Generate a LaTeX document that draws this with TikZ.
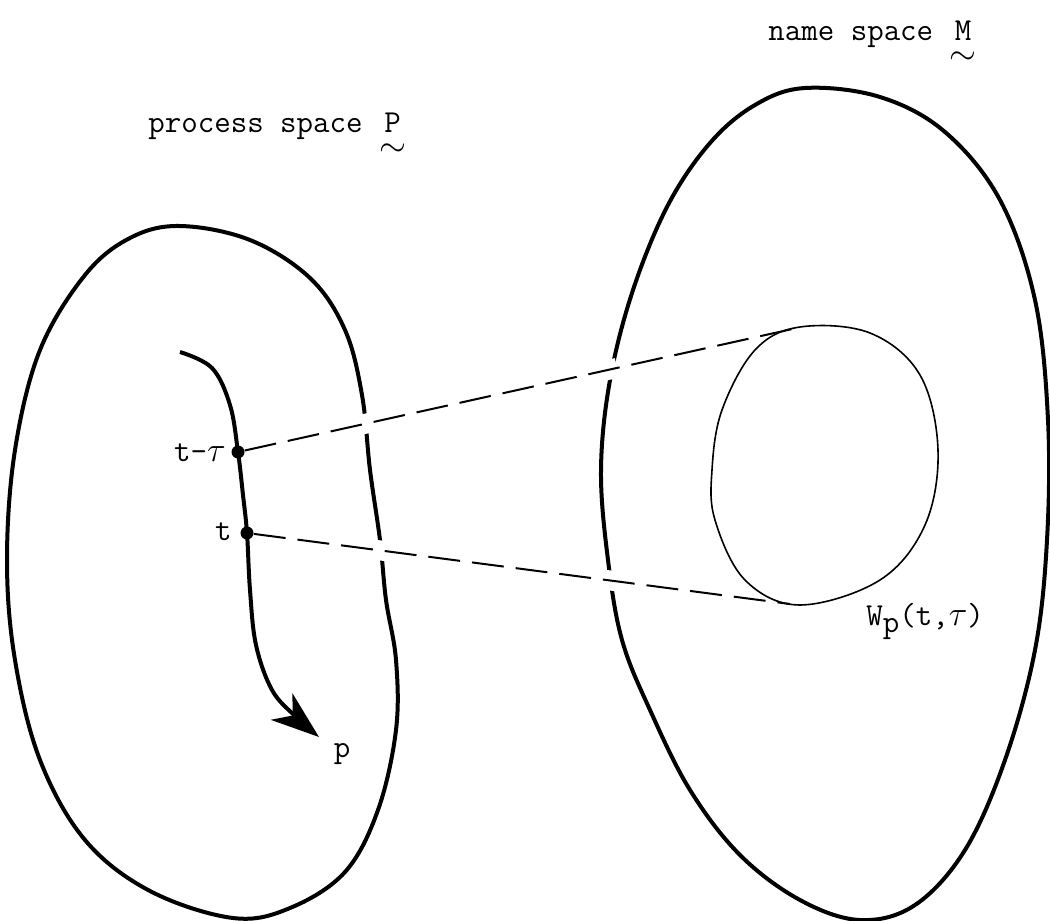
\documentclass[tikz,border=0pt]{standalone}
\usepackage{amsmath}
\usepackage{fontspec}
\usetikzlibrary{arrows.meta,calc}

\newcommand{\uvec}[1]{\ensuremath{\underset{\raisebox{-2pt}{$\textstyle\sim$}}{\text{#1}}}}

\tikzset{
  outline/.style={line width=2pt, line join=round},
  window/.style={line width=0.8pt},
  traj/.style={line width=2pt, -{Stealth[length=24pt,width=17pt,inset=7pt]}},
  dotnode/.style={circle, fill, inner sep=0pt, minimum size=6.5pt},
  link/.style={line width=1pt, dash pattern=on 16pt off 6pt},
  gapmask/.style={white, line width=10pt},
  lbl/.style={font=\fontsize{16}{18}\selectfont\ttfamily, inner sep=0pt}
}

\begin{document}
\begin{tikzpicture}[x=0.5pt,y=-0.5pt]
\useasboundingbox (0,0) rectangle (1050,921);

% process space
\draw[outline] plot[smooth cycle, tension=0.6] coordinates {
  (180,226) (250,240) (310,278) (345,330) (362,395) (370,470) (380,540)
  (386,600) (396,660) (396,730) (378,810) (345,872) (290,908) (233,918)
  (150,891) (85,840) (40,760) (15,660) (7,560) (15,450) (40,350) (85,275)
  (130,238)};

% name space
\draw[outline] plot[smooth cycle, tension=0.6] coordinates {
  (805,88) (880,97) (945,132) (1000,200) (1035,300) (1048,420) (1047,540)
  (1035,650) (1005,760) (965,850) (915,905) (860,920) (800,900) (740,855)
  (690,790) (650,710) (622,640) (608,560) (601,470) (610,380) (633,290)
  (668,205) (710,143) (755,105)};

% window
\draw[window] plot[smooth cycle, tension=0.6] coordinates {
  (800,327) (870,333) (920,375) (938,450) (925,525) (880,580) (800,605)
  (745,580) (715,520) (712,470) (722,410) (755,350)};
\coordinate (wtop) at (797,328);
\coordinate (wbot) at (790,604);

% trajectory
\draw[traj] plot[smooth, tension=0.6] coordinates {
  (180,352) (212,368) (230,405) (238,452) (243,495) (247,533) (250,590)
  (256,645) (272,690) (295,716) (319,737)};
\node[dotnode] (dtt) at (238,452) {};
\node[dotnode] (dt) at (247,533) {};

% gaps where the dashed lines cross
\draw[gapmask] ($(dtt)!0.205!(wtop)$) -- ($(dtt)!0.255!(wtop)$);
\draw[gapmask] ($(dtt)!0.628!(wtop)$) -- ($(dtt)!0.678!(wtop)$);
\draw[gapmask] ($(dt)!0.222!(wbot)$) -- ($(dt)!0.272!(wbot)$);
\draw[gapmask] ($(dt)!0.651!(wbot)$) -- ($(dt)!0.701!(wbot)$);

\draw[link] (dtt) -- (wtop);
\draw[link] (dt) -- (wbot);

% labels
\node[lbl, anchor=base west] (mname) at (768,40) {name space \uvec{M}};
\node[lbl, anchor=base west] (pname) at (148,132) {process space \uvec{P}};
\node[lbl, anchor=east] (ltt) at (226,453) {t-$\tau$};
\node[lbl, anchor=east] (lt) at (232,532) {t};
\node[lbl] (lp) at (342,754) {p};
\node[lbl, anchor=base west] (lw) at (866,625) {W\raisebox{-0.55ex}{p}(t,$\tau$)};
\end{tikzpicture}
\end{document}
